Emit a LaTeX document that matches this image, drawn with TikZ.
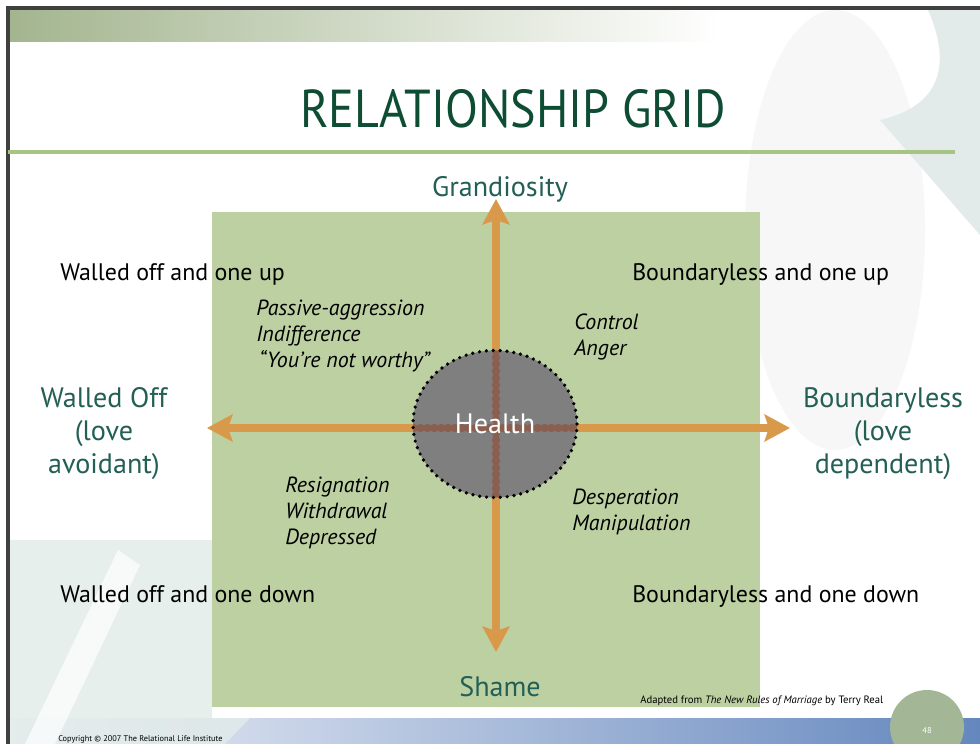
\documentclass[tikz,border=0pt]{standalone}
\usepackage{fontspec}
\usepackage{graphicx}
\setmainfont{PT Sans}
\usetikzlibrary{arrows.meta, positioning, shapes.geometric}

\definecolor{titlegreen}{RGB}{14,77,52}
\definecolor{poleteal}{RGB}{35,95,85}
\definecolor{gridgreen}{RGB}{189,208,162}
\definecolor{axisorange}{RGB}{217,153,74}
\definecolor{crossbrown}{RGB}{138,95,80}
\definecolor{healthgrey}{RGB}{127,127,127}
\definecolor{rulegreen}{RGB}{166,197,133}
\definecolor{framegrey}{RGB}{64,64,64}
\definecolor{bandgreen}{RGB}{163,181,143}
\definecolor{palebowl}{RGB}{246,247,246}
\definecolor{paleteal}{RGB}{226,235,233}
\definecolor{bandlight}{RGB}{240,242,248}
\definecolor{bandblue}{RGB}{100,135,190}
\definecolor{pagesage}{RGB}{163,183,150}

\begin{document}
\begin{tikzpicture}[
    x=0.25mm, y=-0.25mm,
    corner/.style = {anchor=base west, inner sep=0pt, font=\fontsize{17}{20}\selectfont},
    trait/.style = {anchor=base west, inner sep=0pt, align=left, font=\fontsize{15.6}{18.3}\selectfont\itshape},
    pole/.style = {anchor=base, inner sep=0pt, align=center, text=poleteal, font=\fontsize{20}{23.2}\selectfont},
    axistip/.tip = {Stealth[length=18pt, width=19pt, inset=3pt]},
    axis/.style = {draw=axisorange, line width=6pt, axistip-axistip},
    health/.style = {ellipse, fill=healthgrey, minimum width=41mm, minimum height=36.75mm, inner sep=0pt,
                     draw=black, line width=2.6pt, line cap=round, dash pattern=on 0pt off 4.9pt}
  ]
  \useasboundingbox[fill=white] (0,0) rectangle (980,744);

  % Slide background
  \fill[palebowl] (835,230) ellipse [x radius=90, y radius=220];
  \fill[paleteal] (928,10) .. controls (950,60) and (945,105) .. (880,120) -- (980,235) -- (980,10) -- cycle;
  \shade[left color=bandlight, right color=bandblue] (8,718) rectangle (980,744);
  \fill[paleteal, opacity=0.8] (8,540) -- (212,540) -- (212,718) -- (250,718) -- (225,744) -- (8,744) -- cycle;
  \fill[white, opacity=0.7] (25,744) -- (55,744) -- (140,565) -- (118,550) -- cycle;
  \shade[left color=bandgreen, right color=white] (8,10) rectangle (720,42);
  \draw[framegrey, line width=2.5pt] (8,744) -- (8,8) -- (980,8);

  % Title
  \node[anchor=base, inner sep=0pt, text=titlegreen, font=\fontsize{38}{40}\selectfont] (title) at (513,128)
    {\scalebox{0.9}[1]{RELATIONSHIP GRID}};
  \draw[rulegreen, line width=2.2pt] (8,152) -- (955,152);

  % Grid
  \node[fill=gridgreen, minimum width=137mm, minimum height=123.75mm, inner sep=0pt] (grid) at (486,459.5) {};

  % Axes
  \coordinate (up) at (496,199);
  \coordinate (down) at (496,652);
  \coordinate (left) at (207,428);
  \coordinate (right) at (790,428);
  \draw[axis] (left) -- (right);
  \draw[axis] (down) -- (up);

  % Centre
  \node[health, path picture={\draw[crossbrown, line width=6pt] (up) -- (down) (left) -- (right);}] (health) at (495,424) {};
  \node[text=white, font=\fontsize{20}{24}\selectfont] (healthlabel) at (health.center) {Health};

  % Poles (base is the last line)
  \node[pole] (grandiosity) at (500,197) {Grandiosity};
  \node[pole] (shame) at (500,696) {Shame};
  \node[pole] (walledoff) at (104,473) {Walled Off\\(love\\avoidant)};
  \node[pole] (boundaryless) at (883,473) {Boundaryless\\(love\\dependent)};

  % Quadrants
  \node[corner] (wallup) at (60,280) {Walled off and one up};
  \node[corner] (boundup) at (632,280) {Boundaryless and one up};
  \node[corner] (walldown) at (60,602) {Walled off and one down};
  \node[corner] (bounddown) at (632,602) {Boundaryless and one down};

  \node[trait] (passive) at (256,367) {Passive-aggression\\Indifference\\\hspace{2pt}“You’re not worthy”};
  \node[trait] (control) at (574,355) {Control\\Anger};
  \node[trait] (resignation) at (285,544) {Resignation\\Withdrawal\\Depressed};
  \node[trait] (desperation) at (572,530) {Desperation\\Manipulation};

  % Footer
  \node[circle, fill=pagesage, minimum size=18.5mm, inner sep=0pt] (page) at (927,727) {};
  \node[text=white, font=\fontsize{6}{7}\selectfont] (pagenum) at (927,731) {48};
  \node[anchor=base west, inner sep=0pt, font=\fontsize{7.6}{9}\selectfont] (source) at (640,703)
    {Adapted from \textit{The New Rules of Marriage} by Terry Real};
  \node[anchor=base west, inner sep=0pt, font=\fontsize{5.9}{7}\selectfont] (copyright) at (58,741)
    {Copyright © 2007 The Relational Life Institute};
\end{tikzpicture}
\end{document}
